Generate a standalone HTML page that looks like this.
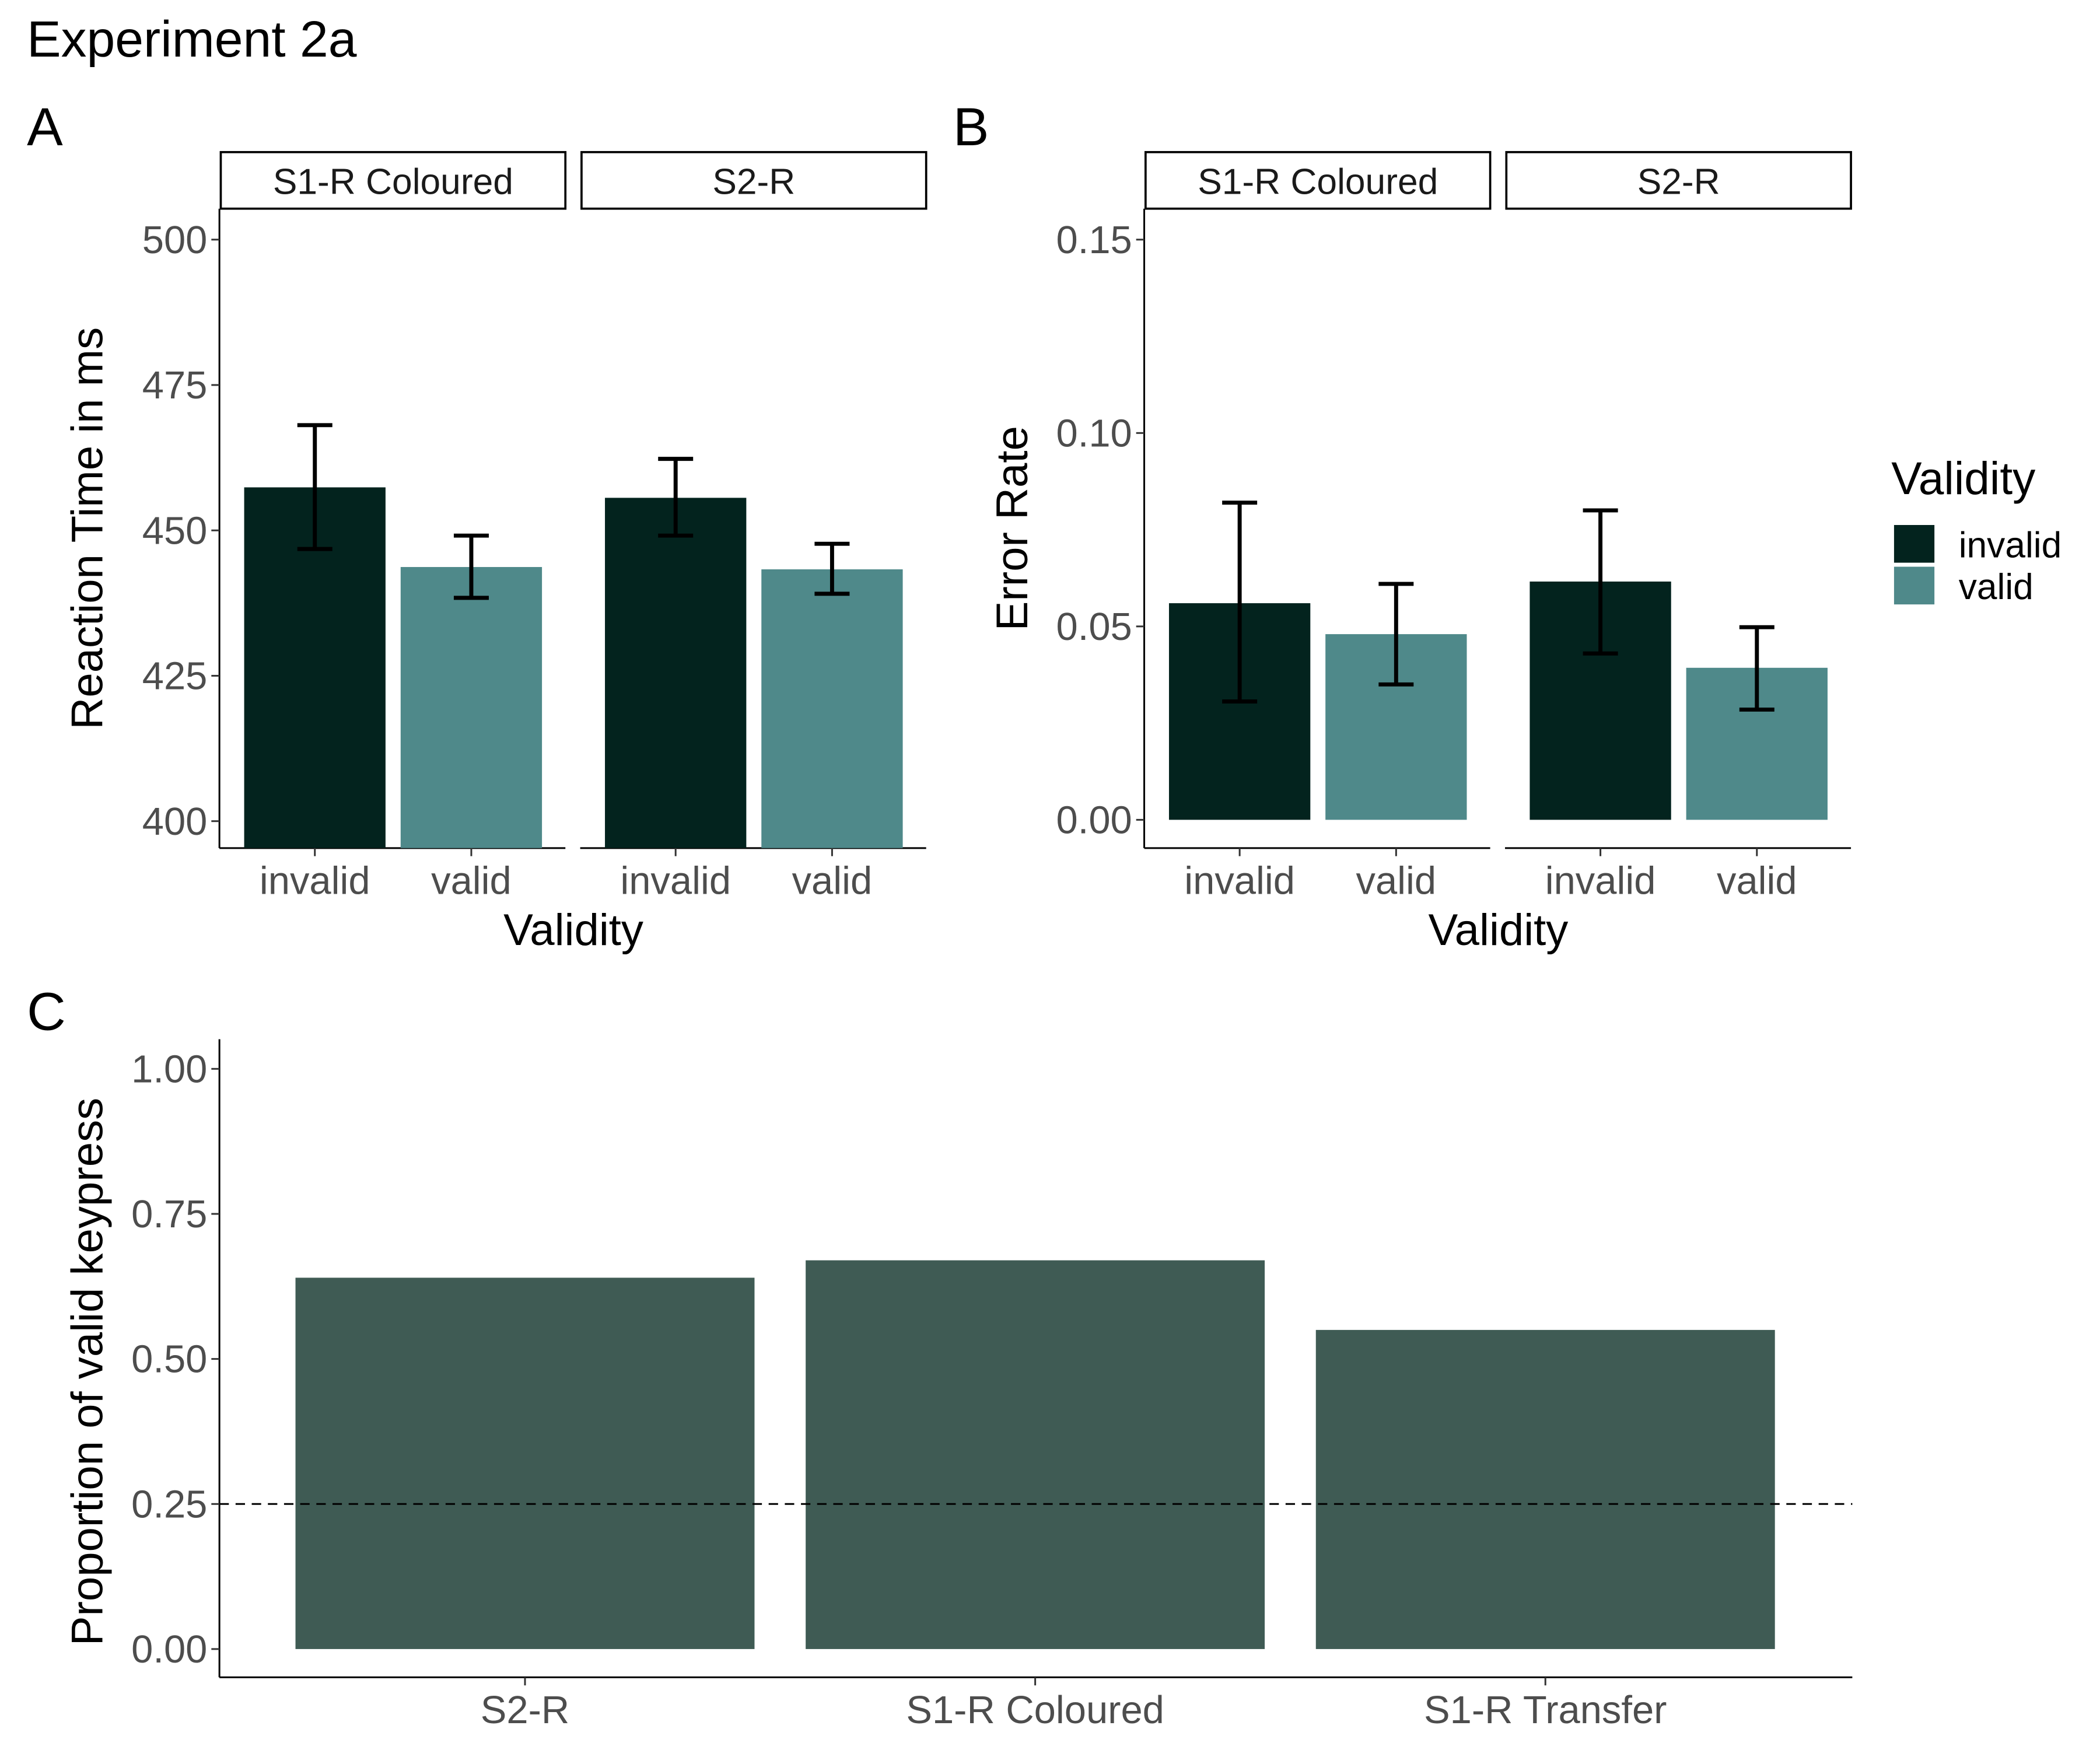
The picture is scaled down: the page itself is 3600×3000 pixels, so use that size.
<!DOCTYPE html>
<html><head><meta charset="utf-8">
<style>
html,body{margin:0;padding:0;background:#fff;}
svg{display:block;font-family:"Liberation Sans",Arial,sans-serif;}
</style></head>
<body>
<svg id="chart" width="3600" height="3000" viewBox="0 0 1560 1300" xmlns="http://www.w3.org/2000/svg">
<rect width="1560" height="1300" fill="#fff"/>
<text x="20" y="42" font-size="38">Experiment 2a</text>
<text x="20" y="108" font-size="40">A</text>
<text x="708" y="108" font-size="40">B</text>
<text x="20" y="765" font-size="40">C</text>
<g id="gA"></g>
<g id="gB"></g>
<g id="gC"></g>
<g>
<text x="1405" y="367" font-size="34">Validity</text>
<rect x="1407" y="390" width="30" height="28" fill="#03231e"/>
<text x="1455" y="414" font-size="27">invalid</text>
<rect x="1407" y="421" width="30" height="28" fill="#4f898a"/>
<text x="1455" y="445" font-size="27">valid</text>
</g>
</svg>
<script>
const facets = ["S1-R Coloured", "S2-R"];
const conds = ["invalid", "valid"];
const rtMean = [[457.4, 443.7], [455.6, 443.3]];
const rtLo = [[446.8, 438.4], [449.1, 439.1]];
const rtHi = [[468.1, 449.1], [462.3, 447.7]];
const rtTicks = [400, 425, 450, 475, 500];
const erMean = [[0.056, 0.048], [0.0616, 0.0393]];
const erLo = [[0.0306, 0.035], [0.043, 0.0285]];
const erHi = [[0.082, 0.061], [0.080, 0.0498]];
const erTicks = [0.00, 0.05, 0.10, 0.15];
const erTickLabels = ["0.00", "0.05", "0.10", "0.15"];
const cCats = ["S2-R", "S1-R Coloured", "S1-R Transfer"];
const cVals = [0.640, 0.670, 0.550];
const cTicks = [0, 0.25, 0.5, 0.75, 1.0];
const cTickLabels = ["0.00", "0.25", "0.50", "0.75", "1.00"];
const chance = 0.25;

const NS = "http://www.w3.org/2000/svg";
function mk(parent, tag, attrs, txt) {
  const e = document.createElementNS(NS, tag);
  for (const k in attrs) e.setAttribute(k, attrs[k]);
  if (txt !== undefined) e.textContent = txt;
  parent.appendChild(e);
  return e;
}
const colors = ["#03231e", "#4f898a"];

function facetPanel(g, x0, yScale, means, los, his, ticks, tickLabels, ytitle, ytitleX, prefix, isZeroBase) {
  const facetX = [x0 + 1, x0 + 269];
  const facetW = 256;
  const top = 155, bottom = 630;
  let ax = mk(g, "line", {x1: x0, y1: top, x2: x0, y2: bottom, stroke: "#000", "stroke-width": 1.3});
  
  
  ticks.forEach((t, i) => {
    const y = yScale(t);
    mk(g, "line", {x1: x0 - 6, y1: y, x2: x0, y2: y, stroke: "#333", "stroke-width": 1.3});
    let tl = mk(g, "text", {x: x0 - 9, y: y + 10, "font-size": 29, fill: "#4d4d4d", "text-anchor": "end"}, tickLabels[i]);
    
    
  });
  const my = (top + bottom) / 2;
  let yt = mk(g, "text", {x: ytitleX, y: my, "font-size": 33, "text-anchor": "middle", transform: "rotate(-90 " + ytitleX + " " + my + ")"}, ytitle);
  
  
  facets.forEach((f, fi) => {
    const fx = facetX[fi];
    let st = mk(g, "rect", {x: fx, y: 113, width: facetW, height: 42, fill: "#fff", stroke: "#000", "stroke-width": 1.6});
    
    
    let sl = mk(g, "text", {x: fx + facetW / 2, y: 144, "font-size": 27, "text-anchor": "middle", fill: "#1a1a1a"}, f);
    
    
    let xa = mk(g, "line", {x1: fx - 1, y1: bottom, x2: fx + facetW, y2: bottom, stroke: "#000", "stroke-width": 1.3});
    
    
    conds.forEach((c, ci) => {
      const cx = fx + facetW * (ci === 0 ? 0.273 : 0.727);
      const bw = 105;
      const yTop = yScale(means[fi][ci]);
      const yBase = isZeroBase ? yScale(0) : bottom;
      let b = mk(g, "rect", {x: cx - bw / 2, y: yTop, width: bw, height: yBase - yTop, fill: colors[ci]});
      
      
      const yl = yScale(los[fi][ci]), yh = yScale(his[fi][ci]);
      let eb = mk(g, "path", {d: `M${cx - 13},${yh}H${cx + 13}M${cx},${yh}V${yl}M${cx - 13},${yl}H${cx + 13}`, stroke: "#000", "stroke-width": 3, fill: "none"});
      
      
      mk(g, "line", {x1: cx, y1: bottom, x2: cx, y2: bottom + 6, stroke: "#333", "stroke-width": 1.3});
      let xl = mk(g, "text", {x: cx, y: bottom + 34, "font-size": 29, fill: "#4d4d4d", "text-anchor": "middle"}, c);
      
      
    });
  });
  let xt = mk(g, "text", {x: x0 + 263, y: 702, "font-size": 33, "text-anchor": "middle"}, "Validity");
  
  
}

const yA = v => 610 - (v - 400) * 4.32;
const yB = v => 609 - v * (431 / 0.15);
facetPanel(document.getElementById("gA"), 163, yA, rtMean, rtLo, rtHi, rtTicks, rtTicks.map(String), "Reaction Time in ms", 76, "rt", false);
facetPanel(document.getElementById("gB"), 850, yB, erMean, erLo, erHi, erTicks, erTickLabels, "Error Rate", 763, "er", true);

(function () {
  const g = document.getElementById("gC");
  const x0 = 163, x1 = 1376, top = 772, bottom = 1246;
  const yC = v => 1225 - v * 431;
  const xC = i => 390 + i * 379;
  let ya = mk(g, "line", {x1: x0, y1: top, x2: x0, y2: bottom, stroke: "#000", "stroke-width": 1.3});
  
  
  let xa = mk(g, "line", {x1: x0, y1: bottom, x2: x1, y2: bottom, stroke: "#000", "stroke-width": 1.3});
  
  
  cTicks.forEach((t, i) => {
    const y = yC(t);
    mk(g, "line", {x1: x0 - 6, y1: y, x2: x0, y2: y, stroke: "#333", "stroke-width": 1.3});
    let tl = mk(g, "text", {x: x0 - 9, y: y + 10, "font-size": 29, fill: "#4d4d4d", "text-anchor": "end"}, cTickLabels[i]);
    
    
  });
  cCats.forEach((c, i) => {
    const cx = xC(i);
    const bw = 341;
    const yt = yC(cVals[i]);
    let b = mk(g, "rect", {x: cx - bw / 2, y: yt, width: bw, height: yC(0) - yt, fill: "#3f5b54"});
    
    
    mk(g, "line", {x1: cx, y1: bottom, x2: cx, y2: bottom + 6, stroke: "#333", "stroke-width": 1.3});
    let xl = mk(g, "text", {x: cx, y: bottom + 34, "font-size": 29, fill: "#4d4d4d", "text-anchor": "middle"}, c);
    
    
  });
  let d = mk(g, "line", {x1: x0, y1: yC(chance), x2: x1, y2: yC(chance), stroke: "#000", "stroke-width": 1.3, "stroke-dasharray": "7 5"});
  
  
  const cy = (top + bottom) / 2 + 10;
  let t = mk(g, "text", {x: 76, y: cy, "font-size": 33, "text-anchor": "middle", transform: `rotate(-90 76 ${cy})`}, "Proportion of valid keypress");
  
  
})();
</script>
</body></html>
